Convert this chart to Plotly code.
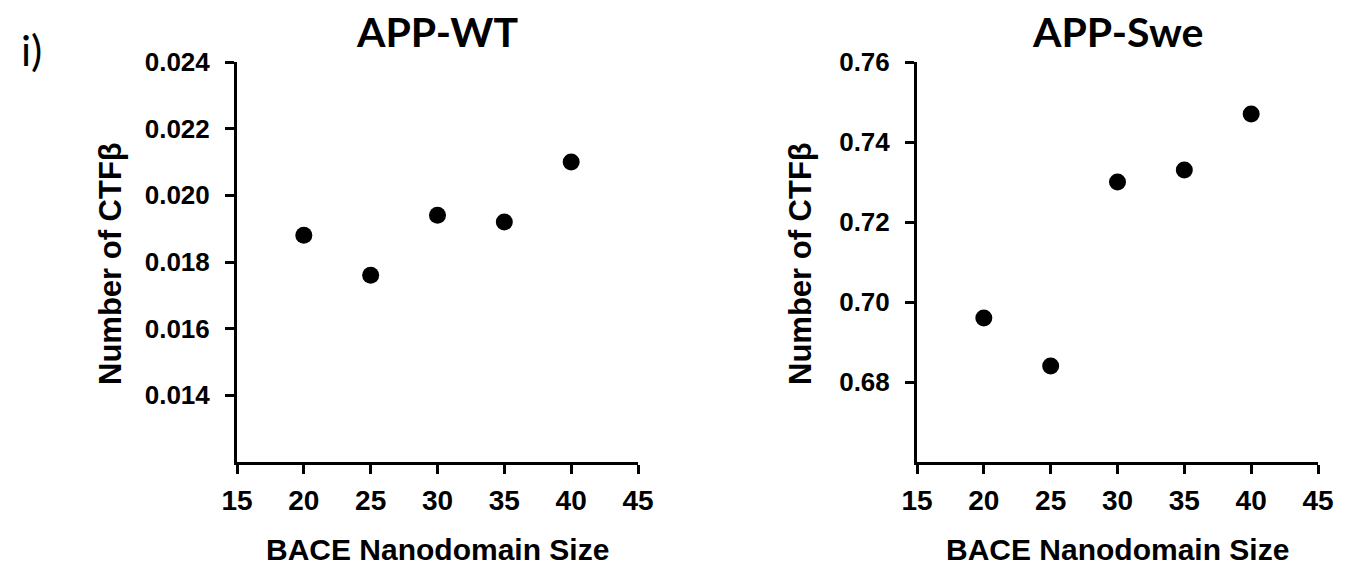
import plotly.graph_objects as go

# Data
sizes = [20, 25, 30, 35, 40]
wt_ctfb = [0.0188, 0.0176, 0.0194, 0.0192, 0.0210]
swe_ctfb = [0.696, 0.684, 0.730, 0.733, 0.747]

x_ticks = [15, 20, 25, 30, 35, 40, 45]
wt_yticks = [0.014, 0.016, 0.018, 0.020, 0.022, 0.024]
wt_ylabels = ["0.014", "0.016", "0.018", "0.020", "0.022", "0.024"]
swe_yticks = [0.68, 0.70, 0.72, 0.74, 0.76]
swe_ylabels = ["0.68", "0.70", "0.72", "0.74", "0.76"]

panel_titles = ["APP-WT", "APP-Swe"]
x_title = "BACE Nanodomain Size"
y_title = "Number of CTFβ"

W, H = 1346, 569
fig = go.Figure()

fig.add_trace(go.Scatter(x=sizes, y=wt_ctfb, mode="markers",
                         marker=dict(color="black", size=17), xaxis="x", yaxis="y",
                         showlegend=False))
fig.add_trace(go.Scatter(x=sizes, y=swe_ctfb, mode="markers",
                         marker=dict(color="black", size=17), xaxis="x2", yaxis="y2",
                         showlegend=False))

def px_x(p):
    return p / W

def px_y(p):
    return 1 - p / H

FONT = "Liberation Sans, Arial, sans-serif"
axis_common = dict(showline=True, linecolor="black", linewidth=3, ticks="outside",
                   ticklen=9, tickwidth=3, tickcolor="black", showgrid=False,
                   zeroline=False, mirror=False, automargin=False)

xfont = dict(family=FONT, size=28, color="black", weight="bold")
yfont = dict(family=FONT, size=26, color="black", weight="bold")

fig.update_layout(
    width=W, height=H,
    paper_bgcolor="white", plot_bgcolor="white",
    margin=dict(l=0, r=0, t=0, b=0, autoexpand=False),
    xaxis=dict(domain=[px_x(237), px_x(638)], range=[15, 45], tickvals=x_ticks,
               tickfont=xfont, anchor="y", ticklabelstandoff=2, **axis_common),
    yaxis=dict(domain=[px_y(462), px_y(62)], range=[0.012, 0.024], tickvals=wt_yticks,
               ticktext=wt_ylabels, tickfont=yfont, anchor="x", ticklabelstandoff=10,
               **axis_common),
    xaxis2=dict(domain=[px_x(917), px_x(1318)], range=[15, 45], tickvals=x_ticks,
                tickfont=xfont, anchor="y2", ticklabelstandoff=2, **axis_common),
    yaxis2=dict(domain=[px_y(462), px_y(62)], range=[0.66, 0.76], tickvals=swe_yticks,
                ticktext=swe_ylabels, tickfont=yfont, anchor="x2", ticklabelstandoff=10,
                **axis_common),
)

annotations = []
for cx, ycx, t in [(437, 110, panel_titles[0]), (1117, 800, panel_titles[1])]:
    annotations.append(dict(text=t, x=px_x(cx), y=px_y(31), xref="paper", yref="paper",
                            xanchor="center", yanchor="middle", showarrow=False,
                            font=dict(family="Lato, sans-serif", size=41, color="black", weight="bold")))
    annotations.append(dict(text=x_title, x=px_x(cx), y=px_y(549), xref="paper", yref="paper",
                            xanchor="center", yanchor="middle", showarrow=False,
                            font=dict(family=FONT, size=30, color="black", weight="bold")))
    annotations.append(dict(text=y_title, x=px_x(ycx), y=px_y(264), xref="paper", yref="paper",
                            xanchor="center", yanchor="middle", showarrow=False, textangle=-90,
                            font=dict(family=FONT, size=31, color="black", weight="bold")))
annotations.append(dict(text="i)", x=px_x(31), y=px_y(50), xref="paper", yref="paper",
                        xanchor="center", yanchor="middle", showarrow=False,
                        font=dict(family="Lato, sans-serif", size=42, color="black")))
fig.update_layout(annotations=annotations)

# remove the default 8px page margin so the 1346x569 figure fills the window exactly
fig.write_html("out.html",
               config={"displayModeBar": False},
               post_script="document.body.style.margin='0';document.body.style.overflow='hidden';")
